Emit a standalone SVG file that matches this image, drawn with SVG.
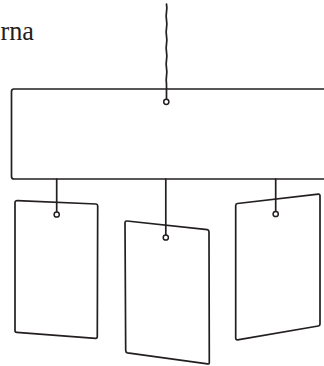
<svg xmlns="http://www.w3.org/2000/svg" width="324" height="366" viewBox="0 0 324 366">
<style>
.s{fill:none;stroke:#231f20;stroke-width:1.7;stroke-linejoin:round;stroke-linecap:round}
.h{fill:#fff;stroke:#231f20;stroke-width:1.5}
.t{font-family:"Liberation Serif","DejaVu Serif",serif;font-size:27px;fill:#231f20}
</style>
<rect width="324" height="366" fill="#fff"/>
<text class="t" x="0.5" y="40" textLength="33.5" lengthAdjust="spacingAndGlyphs">rna</text>
<g id="connectors">
<path class="s" d="M166.5,4 q0.7,4 0,8 q-0.7,4 0,8 q0.7,4 0,8 q-0.7,4 0,8 q0.7,4 0,8 q-0.7,4 0,8 q0.7,4 0,8 q-0.7,4 0,8 q0.7,4 0,8 q-0.6,4 0,8 L166.5,99"/>
<path class="s" d="M56.7,179 L56.7,212"/>
<path class="s" d="M165.8,179 L165.8,235"/>
<path class="s" d="M275.7,179 L275.7,211.5"/>
</g>
<g id="beam">
<rect class="s" x="11.5" y="89" width="330" height="90" rx="2.5"/>
</g>
<g id="card-left">
<path class="s" d="M17.5,200.7 L96,204 Q97.7,204.2 97.7,206 L97.3,336.5 Q97.3,338.4 95.5,338.3 L16.8,332.4 Q15,332.3 15,330.5 L15,202.5 Q15,200.6 17.5,200.7 Z"/>
</g>
<g id="card-middle">
<path class="s" d="M127,221 L207.3,229.7 Q209,230 209,232 L209.3,362.5 Q209.3,364.3 207.5,363.9 L127.5,352.8 Q125.7,352.5 125.7,350.5 L125,223 Q125,220.8 127,221 Z"/>
</g>
<g id="card-right">
<path class="s" d="M237.5,203.5 L318.3,194.2 Q320,194 320,196 L320,324 Q320,325.7 318.3,326 L237.5,339.8 Q235.7,340 235.7,338 L235.7,205.5 Q235.7,203.7 237.5,203.5 Z"/>
</g>
<g id="holes">
<circle class="h" cx="166.3" cy="101.8" r="2.6"/>
<circle class="h" cx="56.7" cy="214.5" r="2.6"/>
<circle class="h" cx="165.8" cy="237.5" r="2.6"/>
<circle class="h" cx="275.7" cy="214" r="2.6"/>
</g>
</svg>
